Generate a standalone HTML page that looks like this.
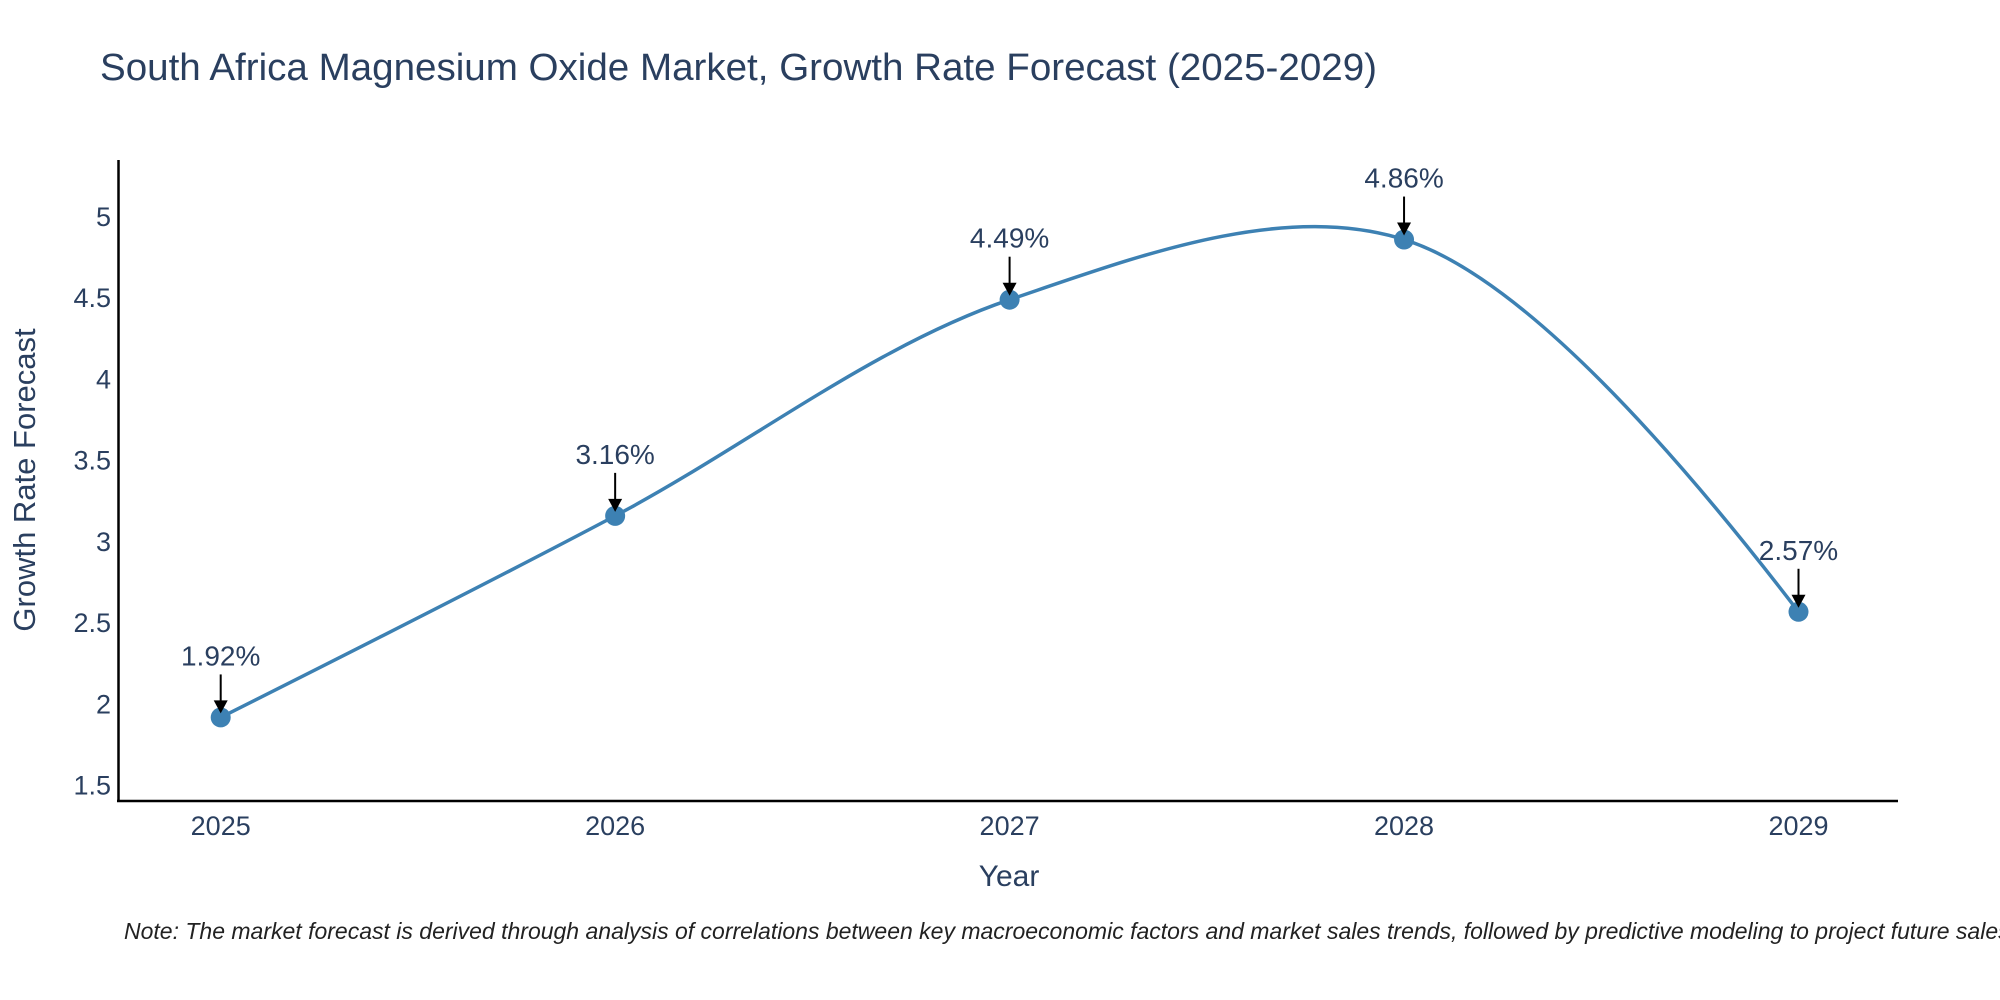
<!DOCTYPE html>
<html><head><meta charset="utf-8"><style>
html,body{margin:0;padding:0;background:#fff}
svg{display:block;font-family:"Liberation Sans",sans-serif}
</style></head><body>
<svg id="chart" width="2000" height="1000" viewBox="0 0 2000 1000">
<text x="100" y="80" font-size="38" textLength="1277" lengthAdjust="spacingAndGlyphs" fill="#2a3f5f">South Africa Magnesium Oxide Market, Growth Rate Forecast (2025-2029)</text>
<g id="yticks"></g>
<g id="xticks"></g>
<line x1="118.5" y1="160" x2="118.5" y2="802" stroke="#000" stroke-width="2.5"/>
<line x1="117" y1="801" x2="1898" y2="801" stroke="#000" stroke-width="2.5"/>
<path id="line" fill="none" stroke="#3d81b3" stroke-width="3.5"/>
<g id="points"></g>
<g id="annots"></g>
<text x="1009" y="886" font-size="30" fill="#2a3f5f" text-anchor="middle">Year</text>
<text transform="translate(35,480) rotate(-90)" font-size="31" fill="#2a3f5f" text-anchor="middle">Growth Rate Forecast</text>
<text x="124" y="939" font-size="23" font-style="italic" fill="#222">Note: The market forecast is derived through analysis of correlations between key macroeconomic factors and market sales trends, followed by predictive modeling to project future sales.</text>
</svg>
<script>
const years = [2025, 2026, 2027, 2028, 2029];
const growth = [1.92, 3.16, 4.49, 4.86, 2.57];
const yTickVals = [1.5, 2, 2.5, 3, 3.5, 4, 4.5, 5];
const yTickLabels = ["1.5", "2", "2.5", "3", "3.5", "4", "4.5", "5"];
const NS = "http://www.w3.org/2000/svg";
const xS = v => 220.7 + (v - 2025) * (1798.5 - 220.7) / 4;
const yS = v => 216.8 + (5 - v) * (785.7 - 216.8) / 3.5;
function mk(tag, attrs, parent) {
  const e = document.createElementNS(NS, tag);
  for (const k in attrs) e.setAttribute(k, attrs[k]);
  parent.appendChild(e);
  return e;
}
const yt = document.getElementById('yticks');
yTickVals.forEach((v, i) => {
  const t = mk('text', {x: 111, y: yS(v) + 9, 'font-size': 27, fill: '#2a3f5f', 'text-anchor': 'end'}, yt);
  
  
  t.textContent = yTickLabels[i];
});
const xt = document.getElementById('xticks');
years.forEach(y => {
  const t = mk('text', {x: xS(y), y: 835, 'font-size': 27, fill: '#2a3f5f', 'text-anchor': 'middle'}, xt);
  
  
  t.textContent = String(y);
});
const pts = years.map((y, i) => [xS(y), yS(growth[i])]);
const tang = [];
for (let i = 1; i < pts.length - 1; i++) {
  const [x0, y0] = pts[i - 1], [x1, y1] = pts[i], [x2, y2] = pts[i + 1];
  const dx1 = x1 - x0, dy1 = y1 - y0, dx2 = x2 - x1, dy2 = y2 - y1;
  const d1a = Math.pow(dx1 * dx1 + dy1 * dy1, 0.25), d2a = Math.pow(dx2 * dx2 + dy2 * dy2, 0.25);
  const nx = d2a * d2a * dx1 + d1a * d1a * dx2, ny = d2a * d2a * dy1 + d1a * d1a * dy2;
  const den1 = 3 * d2a * (d1a + d2a), den2 = 3 * d1a * (d1a + d2a);
  tang.push([[x1 - nx / den1, y1 - ny / den1], [x1 + nx / den2, y1 + ny / den2]]);
}
const P = p => p[0].toFixed(2) + ',' + p[1].toFixed(2);
let d = 'M' + P(pts[0]) + 'Q' + P(tang[0][0]) + ' ' + P(pts[1]);
for (let i = 2; i < pts.length - 1; i++) d += 'C' + P(tang[i - 2][1]) + ' ' + P(tang[i - 1][0]) + ' ' + P(pts[i]);
d += 'Q' + P(tang[tang.length - 1][1]) + ' ' + P(pts[pts.length - 1]);
document.getElementById('line').setAttribute('d', d);
const pg = document.getElementById('points'), ag = document.getElementById('annots');
years.forEach((y, i) => {
  const cx = xS(y), cy = yS(growth[i]);
  const c = mk('circle', {cx: cx, cy: cy, r: 10, fill: '#3d81b3'}, pg);
  
  
  const l = mk('line', {x1: cx, y1: cy - 43, x2: cx, y2: cy - 14, stroke: '#000', 'stroke-width': 2}, ag);
  
  
  const h = mk('path', {d: `M${cx - 7},${cy - 17}L${cx + 7},${cy - 17}L${cx},${cy - 4}Z`, fill: '#000'}, ag);
  
  
  const t = mk('text', {x: cx, y: cy - 52, 'font-size': 28, fill: '#2a3f5f', 'text-anchor': 'middle'}, ag);
  
  
  t.textContent = growth[i].toFixed(2) + '%';
});
</script>
</body></html>
